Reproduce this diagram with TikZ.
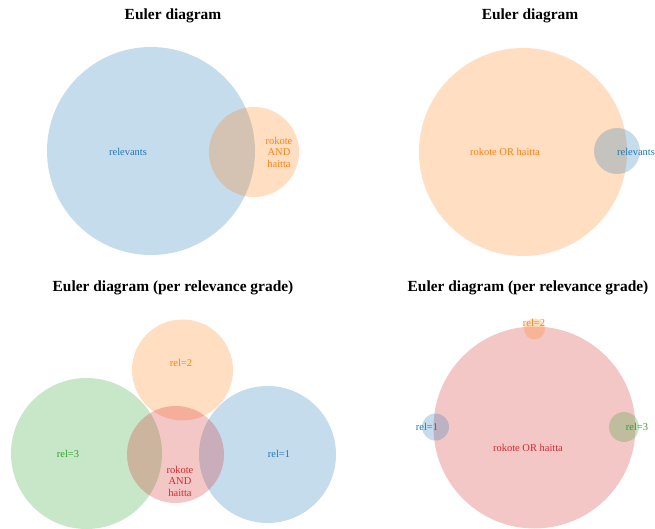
\documentclass[tikz,border=0pt]{standalone}
\usepackage{fontspec}
\setmainfont{Liberation Serif}
\definecolor{tblue}{HTML}{1F77B4}
\definecolor{torange}{HTML}{FF7F0E}
\definecolor{tgreen}{HTML}{2CA02C}
\definecolor{tred}{HTML}{D62728}
\begin{document}
\begin{tikzpicture}[x=1bp,y=-1bp,
  title/.style={font=\fontsize{15.5}{18}\selectfont\bfseries, inner sep=0},
  lbl/.style={font=\fontsize{10.5}{11.5}\selectfont, align=center, inner sep=0},
  setc/.style={circle, fill=#1, fill opacity=0.26, draw=none, inner sep=0, outer sep=0}]
\useasboundingbox (0,0) rectangle (655,529);
\clip (0,0) rectangle (655,529);

% Panel 1
\node[title] (t1) at (173,16) {Euler diagram};
\node[setc=tblue, minimum size=208bp] (a1) at (151,151) {};
\node[setc=torange, minimum size=90bp] (b1) at (254,152) {};
\node[lbl, text=tblue] (la1) at (128,152) {relevants};
\node[lbl, text=torange] (lb1) at (279,152) {rokote\\AND\\haitta};

% Panel 2
\node[title] (t2) at (530,16) {Euler diagram};
\node[setc=torange, minimum size=208bp] (a2) at (523,152) {};
\node[setc=tblue, minimum size=46bp] (b2) at (617,151) {};
\node[lbl, text=torange] (la2) at (505,152) {rokote OR haitta};
\node[lbl, text=tblue] (lb2) at (636,152) {relevants};

% Panel 3
\node[title] (t3) at (173,288) {Euler diagram (per relevance grade)};
\node[setc=torange, minimum size=101bp] (o3) at (182.5,370) {};
\node[setc=tgreen, minimum size=151bp] (g3) at (86.5,453.5) {};
\node[setc=tblue, minimum size=137bp] (b3) at (267.5,454.5) {};
\node[setc=tred, minimum size=97bp] (r3) at (175.5,454.5) {};
\node[lbl, text=torange] (lo3) at (181,363) {rel=2};
\node[lbl, text=tgreen] (lg3) at (68,454) {rel=3};
\node[lbl, text=tblue] (lb3) at (279,454) {rel=1};
\node[lbl, text=tred] (lr3) at (180,481) {rokote\\AND\\haitta};

% Panel 4
\node[title] (t4) at (528,288) {Euler diagram (per relevance grade)};
\node[setc=tred, minimum size=202bp] (r4) at (534.5,427.5) {};
\node[setc=torange, minimum size=21bp] (o4) at (534.5,329) {};
\node[setc=tblue, minimum size=27bp] (b4) at (435.5,427) {};
\node[setc=tgreen, minimum size=30bp] (g4) at (624,427) {};
\node[lbl, text=torange] (lo4) at (534,323) {rel=2};
\node[lbl, text=tblue] (lb4) at (427,427) {rel=1};
\node[lbl, text=tgreen] (lg4) at (637,427) {rel=3};
\node[lbl, text=tred] (lr4) at (528,448) {rokote OR haitta};
\end{tikzpicture}
\end{document}
